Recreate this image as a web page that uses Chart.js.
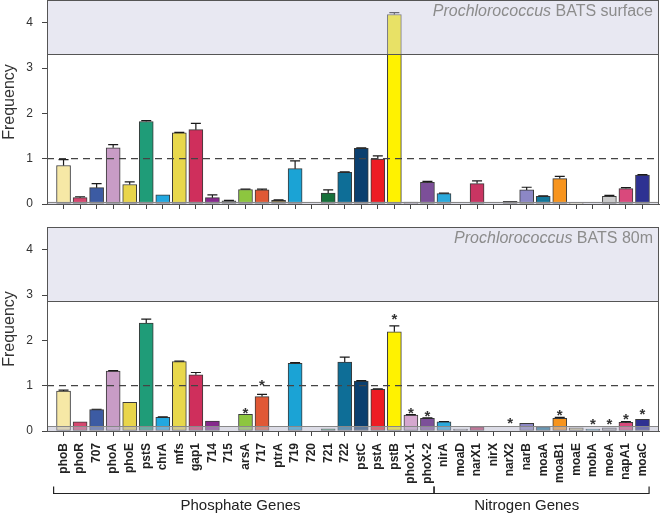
<!DOCTYPE html>
<html>
<head>
<meta charset="utf-8">
<script src="https://cdn.jsdelivr.net/npm/chart.js@4.4.1/dist/chart.umd.min.js"></script>
<style>
  html, body { margin: 0; padding: 0; background: #fff; }
  #wrap { position: relative; width: 660px; height: 514px; }
  .panel { position: absolute; left: 0; width: 660px; }
  #top { top: 0; height: 220px; }
  #bottom { top: 220px; height: 294px; }
</style>
</head>
<body>
<div id="wrap">
  <div class="panel" id="top"><canvas id="surfaceChart"></canvas></div>
  <div class="panel" id="bottom"><canvas id="deepChart"></canvas></div>
</div>
<script>
// Gene categories (x axis)
const genes = ['phoB', 'phoR', '707', 'phoA', 'phoE', 'pstS', 'chrA', 'mfs', 'gap1', '714', '715', 'arsA',
    '717', 'ptrA', '719', '720', '721', '722', 'pstC', 'pstA', 'pstB', 'phoX-1', 'phoX-2',
    'nirA', 'moaD', 'narX1', 'nirX', 'narX2', 'narB', 'moaA', 'moaB1', 'moaE', 'mobA', 'moeA', 'napA1', 'moaC'];

const geneColors = ['#f6e8a6', '#d6476f', '#3c5ba3', '#c89cc6', '#e9d54b', '#1f9c78', '#22a8e0', '#e8d84c',
    '#cf2f5c', '#86298d', '#8a8a8a', '#8dc63f', '#e05835', '#7b6b45', '#1ba3d5', '#cccccc', '#17703a',
    '#0e6e97', '#0b3f6f', '#ed1c24', '#fff200', '#d5a7cf', '#7c4f99', '#2aa9dc', '#a0a0a0', '#c93562',
    '#cccccc', '#4e8f86', '#8c87c5', '#13779a', '#f7941d', '#f1e6a8', '#2a8ea0', '#cbcbcb', '#d9497c', '#2e3192'];

// BATS surface
const surfaceValues = [0.85, 0.14, 0.36, 1.24, 0.43, 1.82, 0.20, 1.57, 1.64, 0.14, 0.07, 0.32,
    0.31, 0.08, 0.78, 0, 0.24, 0.70, 1.23, 0.99, 4.18, 0.04, 0.48,
    0.23, 0, 0.45, 0, 0.06, 0.31, 0.17, 0.56, 0.02, 0, 0.17, 0.34, 0.64];
const surfaceErrors = [0.13, 0.02, 0.09, 0.07, 0.06, 0.02, 0, 0.01, 0.14, 0.06, 0.01, 0.01,
    0.02, 0.01, 0.17, 0, 0.07, 0.01, 0.01, 0.07, 0.04, 0, 0.02,
    0.01, 0, 0.06, 0, 0, 0.06, 0.01, 0.05, 0, 0, 0.02, 0.02, 0.01];

// BATS 80m
const deepValues = [0.88, 0.20, 0.47, 1.32, 0.63, 2.38, 0.30, 1.53, 1.24, 0.22, 0, 0.37,
    0.76, 0, 1.49, 0, 0.05, 1.52, 1.10, 0.92, 2.19, 0.35, 0.28,
    0.20, 0.04, 0.09, 0, 0, 0.17, 0.09, 0.28, 0.07, 0.04, 0.07, 0.19, 0.26];
const deepErrors = [0.02, 0, 0.01, 0.01, 0, 0.09, 0.01, 0.01, 0.05, 0, 0, 0,
    0.05, 0, 0.02, 0, 0, 0.11, 0.01, 0.01, 0.13, 0.01, 0.01,
    0.01, 0, 0, 0, 0, 0, 0, 0.02, 0, 0, 0, 0.02, 0];
// height of the significance asterisks (null = none)
const deepStars = [null, null, null, null, null, null, null, null, null, null, null, 0.48,
    1.09, null, null, null, null, null, null, null, 2.54, 0.48, 0.42,
    null, null, null, null, 0.26, null, null, 0.44, null, 0.23, 0.23, 0.34, 0.46];

const yTicks = [0, 1, 2, 3, 4];
const groups = [
    { label: 'Phosphate Genes', first: 0, last: 22, labelAt: 10.7 },
    { label: 'Nitrogen Genes', first: 23, last: 35, labelAt: 28 }
];

const FONT = '"Liberation Sans", Arial, sans-serif';
Chart.defaults.font.family = FONT;
Chart.defaults.color = '#333';

// shading bands, dashed reference line, error bars, frame, labels
const panelDecor = {
    id: 'panelDecor',
    afterDatasetsDraw(chart, args, opts) {
        const { ctx, chartArea: a, scales: { x, y } } = chart;
        ctx.save();

        // error bars
        ctx.strokeStyle = '#1a1a1a';
        ctx.lineWidth = 1.2;
        opts.values.forEach((v, i) => {
            const e = opts.errors[i];
            if (!v || !e) return;
            const px = x.getPixelForValue(i);
            const y0 = y.getPixelForValue(v);
            const y1 = y.getPixelForValue(v + e);
            ctx.beginPath();
            ctx.moveTo(px, y0);
            ctx.lineTo(px, y1);
            ctx.moveTo(px - 5, y1);
            ctx.lineTo(px + 5, y1);
            ctx.stroke();
        });

        // upper grey band
        const yb = y.getPixelForValue(opts.bandFrom);
        ctx.fillStyle = 'rgba(205, 205, 226, 0.45)';
        ctx.fillRect(a.left, a.top, a.width, yb - a.top);
        ctx.strokeStyle = '#555';
        ctx.lineWidth = 1;
        ctx.beginPath();
        ctx.moveTo(a.left, Math.round(yb) + 0.5);
        ctx.lineTo(a.right, Math.round(yb) + 0.5);
        ctx.stroke();

        // baseline band
        const yz = y.getPixelForValue(0);
        const yl = y.getPixelForValue(opts.baseBand);
        ctx.fillStyle = 'rgba(185, 185, 205, 0.5)';
        ctx.fillRect(a.left, yl, a.width, yz - yl);
        ctx.strokeStyle = '#888';
        ctx.beginPath();
        ctx.moveTo(a.left, Math.round(yl) + 0.5);
        ctx.lineTo(a.right, Math.round(yl) + 0.5);
        ctx.stroke();

        // dashed line at 1
        const y1 = y.getPixelForValue(1);
        ctx.strokeStyle = '#444';
        ctx.lineWidth = 1.4;
        ctx.setLineDash([7, 5]);
        ctx.beginPath();
        ctx.moveTo(a.left, y1);
        ctx.lineTo(a.right, y1);
        ctx.stroke();
        ctx.setLineDash([]);

        // frame
        ctx.strokeStyle = '#555';
        ctx.lineWidth = 1;
        ctx.strokeRect(a.left + 0.5, a.top + 0.5, a.width - 1, a.height);

        // panel title, right aligned
        const rest = ' ' + opts.title;
        ctx.fillStyle = '#8c8c8c';
        ctx.textBaseline = 'alphabetic';
        ctx.textAlign = 'left';
        ctx.font = '16px ' + FONT;
        const wRest = ctx.measureText(rest).width;
        ctx.font = 'italic 16px ' + FONT;
        const wItal = ctx.measureText('Prochlorococcus').width;
        const tx = a.right - 6 - wRest - wItal;
        const ty = a.top + 15.5;
        ctx.fillText('Prochlorococcus', tx, ty);
        ctx.font = '16px ' + FONT;
        ctx.fillText(rest, tx + wItal, ty);

        // asterisks
        if (opts.stars) {
            ctx.fillStyle = '#333';
            ctx.textAlign = 'center';
            ctx.font = 'bold 15px ' + FONT;
            opts.stars.forEach((s, i) => {
                if (s == null) return;
                ctx.fillText('*', x.getPixelForValue(i), y.getPixelForValue(s) + 8.6);
            });
        }

        // gene group brackets
        if (opts.groups) {
            const by = a.bottom + 62.5;
            ctx.strokeStyle = '#222';
            ctx.lineWidth = 1.2;
            ctx.fillStyle = '#222';
            ctx.textAlign = 'center';
            ctx.textBaseline = 'middle';
            ctx.font = '15px ' + FONT;
            opts.groups.forEach(g => {
                const x0 = x.getPixelForValue(g.first - 0.6);
                const x1 = x.getPixelForValue(g.last + 0.4);
                ctx.beginPath();
                ctx.moveTo(x0, by - 7);
                ctx.lineTo(x0, by);
                ctx.lineTo(x1, by);
                ctx.lineTo(x1, by - 7);
                ctx.stroke();
                ctx.fillText(g.label, x.getPixelForValue(g.labelAt), by + 12);
            });
        }
        ctx.restore();
    }
};

function makeChart(canvasId, values, errors, stars, bandFrom, baseBand, title, showLabels) {
    const ctx = document.getElementById(canvasId).getContext('2d');
    return new Chart(ctx, {
        type: 'bar',
        data: {
            datasets: [{
                data: values.map((v, i) => ({ x: i, y: v > 0 ? v : null })),
                backgroundColor: geneColors,
                borderColor: '#3a3a3a',
                borderWidth: 1,
                borderSkipped: false,
                barThickness: 14
            }]
        },
        options: {
            responsive: true,
            maintainAspectRatio: false,
            animation: false,
            layout: { padding: { top: showLabels ? 7 : 0, right: 1, left: 0, bottom: 0 } },
            plugins: {
                legend: { display: false },
                tooltip: { enabled: false },
                panelDecor: {
                    values: values, errors: errors, stars: stars,
                    bandFrom: bandFrom, baseBand: baseBand, title: title,
                    groups: showLabels ? groups : null
                }
            },
            scales: {
                x: {
                    type: 'linear',
                    min: -1,
                    max: 36,
                    offset: false,
                    afterBuildTicks: s => { s.ticks = genes.map((g, i) => ({ value: i })); },
                    afterFit: s => {
                        s.height = showLabels ? 83 : 16;
                        s.paddingLeft = 0;
                        s.paddingRight = 0;
                    },
                    ticks: {
                        display: showLabels,
                        autoSkip: false,
                        maxRotation: 90,
                        minRotation: 90,
                        padding: 7,
                        color: '#222',
                        font: { size: 12, weight: 'bold' },
                        callback: v => genes[v]
                    },
                    grid: { drawOnChartArea: false, offset: false, tickLength: 5, color: '#444' },
                    border: { color: '#555' }
                },
                y: {
                    min: 0,
                    max: 4.5,
                    afterBuildTicks: s => { s.ticks = yTicks.map(v => ({ value: v })); },
                    afterFit: s => {
                        s.width = 47;
                        s.paddingTop = 0;
                        s.paddingBottom = 0;
                    },
                    ticks: { padding: 9, color: '#333', font: { size: 12 } },
                    grid: { drawOnChartArea: false, tickLength: 5, color: '#444' },
                    border: { color: '#555' },
                    title: { display: true, text: 'Frequency', color: '#333', font: { size: 16 }, padding: 0 }
                }
            }
        },
        plugins: [panelDecor]
    });
}

makeChart('surfaceChart', surfaceValues, surfaceErrors, null, 3.3, 0.05, 'BATS surface', false);
makeChart('deepChart', deepValues, deepErrors, deepStars, 2.87, 0.11, 'BATS 80m', true);
</script>
</body>
</html>
